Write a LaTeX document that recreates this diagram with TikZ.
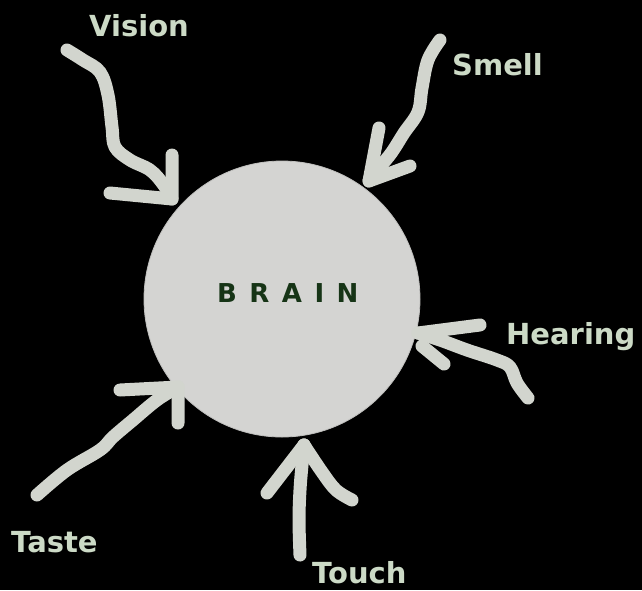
\documentclass[tikz,border=0pt]{standalone}
\usepackage{fontspec}
\setmainfont{DejaVu Sans}

\definecolor{nervegray}{RGB}{210,213,206}
\definecolor{matter}{RGB}{212,212,210}
\definecolor{sensetxt}{RGB}{204,218,198}
\definecolor{braintxt}{RGB}{22,52,22}

\begin{document}
\begin{tikzpicture}[
    x=1pt, y=-1pt,
    cortex/.style={circle, fill=matter, draw=matter!90!black, line width=0.8pt, minimum size=276pt, inner sep=0pt},
    sense/.style={text=sensetxt, font=\fontsize{29}{30}\selectfont\bfseries, inner sep=0pt, anchor=base west},
    brainlbl/.style={text=braintxt, font=\fontsize{26}{28}\selectfont\bfseries\addfontfeature{LetterSpace=48}, inner sep=0pt, anchor=base west},
    nerve/.style={draw=nervegray, line width=13pt, line cap=round, line join=round}
]
\fill[black] (0,0) rectangle (642,590);
\useasboundingbox (0,0) rectangle (642,590);

% Brain
\node[cortex] (brain) at (282,299) {};
\node[brainlbl] (brainword) at (217,302) {BRAIN};

% Senses
\node[sense] (vision) at (89,36) {Vision};
\node[sense] (smell) at (452,75) {Smell};
\node[sense] (hearing) at (506,344) {Hearing};
\node[sense] (taste) at (11,552) {Taste};
\node[sense] (touch) at (312,583) {Touch};

% Ends of the nerves
\coordinate (vision-a) at (67,50);
\coordinate (vision-t) at (172,199);
\coordinate (smell-a) at (440,40);
\coordinate (smell-t) at (369,181);
\coordinate (hearing-a) at (528,398);
\coordinate (hearing-t) at (418,333);
\coordinate (taste-a) at (37,495);
\coordinate (taste-t) at (178,387);
\coordinate (touch-a) at (300,555);
\coordinate (touch-t) at (304,445);

% Nerves
\draw[nerve] plot[smooth, tension=0.6] coordinates {(vision-a) (83,60) (100,72) (108,95) (112,127) (115,147) (130,160) (150,170) (163,184) (vision-t)};
\draw[nerve] (110,193) -- (vision-t) -- (172,155);

\draw[nerve] plot[smooth, tension=0.6] coordinates {(smell-a) (428,60) (422,88) (418,112) (404,133) (392,152) (380,167) (smell-t)};
\draw[nerve] (379,128) -- (smell-t) -- (410,166);

\draw[nerve] plot[smooth, tension=0.6] coordinates {(hearing-a) (517,383) (510,367) (497,360) (467,350) (440,340) (hearing-t)};
\draw[nerve] (480,325) -- (hearing-t);
\draw[nerve] (444,364) -- (422,346);

\draw[nerve] plot[smooth, tension=0.6] coordinates {(taste-a) (67,470) (100,450) (113,437) (133,420) (157,400) (taste-t)};
\draw[nerve] (120,390) -- (taste-t) -- (178,423);

\draw[nerve] plot[smooth, tension=0.6] coordinates {(touch-a) (299,520) (300,490) (302,465) (touch-t)};
\draw[nerve] (267,493) -- (touch-t);
\draw[nerve] plot[smooth, tension=0.6] coordinates {(touch-t) (322,472) (336,490) (352,500)};

\end{tikzpicture}
\end{document}
